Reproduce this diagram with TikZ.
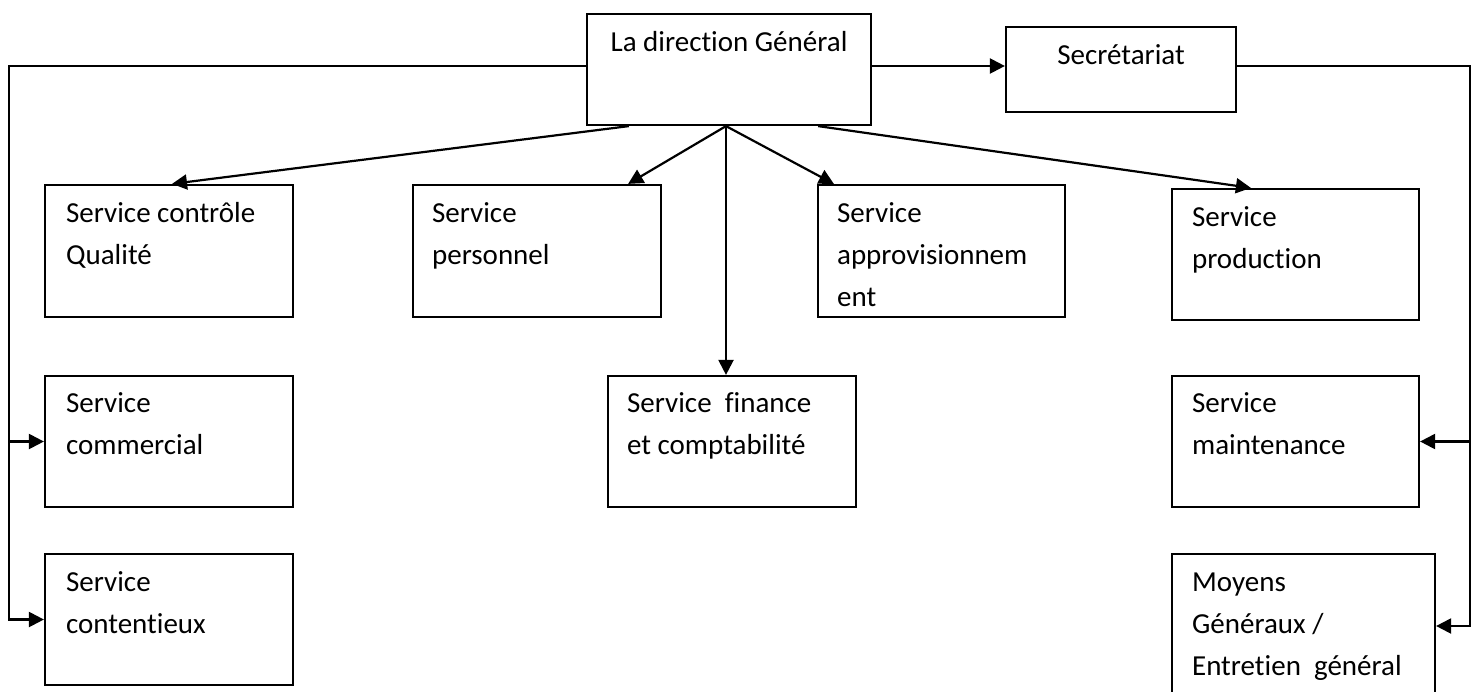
\documentclass[tikz,border=0pt]{standalone}
\usepackage{fontspec}
\setmainfont{Carlito}[Ligatures={NoCommon,NoContextual}]
\usetikzlibrary{arrows.meta,calc}
\begin{document}
\begin{tikzpicture}[x=1pt,y=-1pt,
  box/.style={draw,line width=2.2pt,inner sep=0pt,minimum height=#1},
  box/.default=132pt,
  txt/.style={inner sep=0pt,anchor=base west,font=\fontsize{29}{42}\selectfont},
  ctxt/.style={inner sep=0pt,anchor=base,font=\fontsize{29}{42}\selectfont},
  conn/.style={line width=2.2pt},
  arr/.style={conn,-{Triangle[length=15pt,width=15pt]}}]
\useasboundingbox (0,0) rectangle (1478,691);
% boxes
\node[box=111pt,minimum width=284pt] (dir) at (729,69.5) {};
\node[box=85pt,minimum width=230pt] (sec) at (1121,69.5) {};
\node[box,minimum width=248pt] (ctrl) at (169,251) {};
\node[box,minimum width=248pt] (pers) at (537,251) {};
\node[box,minimum width=247pt] (appro) at (941.5,251) {};
\node[box=131pt,minimum width=247pt] (prod) at (1295.5,254.5) {};
\node[box=131pt,minimum width=248pt] (comm) at (169,441.5) {};
\node[box=131pt,minimum width=248pt] (cont) at (169,619.5) {};
\node[box=131pt,minimum width=248pt] (fin) at (732,441.5) {};
\node[box=131pt,minimum width=247pt] (maint) at (1295.5,441.5) {};
\node[box=144pt,minimum width=263pt] (moy) at (1303.5,626) {};
% texts
\node[ctxt] (tdir) at ($(dir.north)+(0,39)$) {La direction Général};
\node[ctxt] (tsec) at ($(sec.north)+(0,39)$) {Secrétariat};
\node[txt] (tctrl) at ($(ctrl.north west)+(22,39)$) {\parbox[t]{240pt}{\raggedright Service contrôle\\Qualité}};
\node[txt] (tpers) at ($(pers.north west)+(20,39)$) {\parbox[t]{240pt}{\raggedright Service\\personnel}};
\node[txt] (tappro) at ($(appro.north west)+(20,39)$) {\parbox[t]{240pt}{\raggedright Service\\approvisionnem\\ent}};
\node[txt] (tprod) at ($(prod.north west)+(21,39)$) {\parbox[t]{240pt}{\raggedright Service\\production}};
\node[txt] (tcomm) at ($(comm.north west)+(22,38)$) {\parbox[t]{240pt}{\raggedright Service\\commercial}};
\node[txt] (tcont) at ($(cont.north west)+(22,39)$) {\parbox[t]{240pt}{\raggedright Service\\contentieux}};
\node[txt] (tfin) at ($(fin.north west)+(20,38)$) {\parbox[t]{240pt}{\raggedright Service\ \ finance\\et comptabilité}};
\node[txt] (tmaint) at ($(maint.north west)+(21,38)$) {\parbox[t]{240pt}{\raggedright Service\\maintenance}};
\node[txt] (tmoy) at ($(moy.north west)+(21,39)$) {\parbox[t]{260pt}{\raggedright Moyens\\Généraux /\\Entretien\ \ général}};
% connectors
\coordinate (lt) at (9,66);
\coordinate (rt) at (1470,66);
\coordinate (hub) at ([xshift=-3pt]dir.south);
\draw[arr] ([yshift=3.5pt]dir.west) -- (lt) |- (cont.west);
\draw[arr] (lt |- comm.west) -- (comm.west);
\draw[arr] ([yshift=3.5pt]dir.east) -- ([yshift=3.5pt]sec.west);
\draw[arr] ([yshift=3.5pt]sec.east) -- (rt) |- (moy.east);
\draw[arr] (rt |- maint.east) -- (maint.east);
\draw[arr] ([xshift=43pt]dir.south west) -- ([xshift=3pt]ctrl.north);
\draw[arr] (hub) -- ([xshift=-34pt]pers.north east);
\draw[arr] (hub) -- ([xshift=17pt]appro.north west);
\draw[arr] ([xshift=-54pt]dir.south east) -- ([xshift=80pt]prod.north west);
\draw[arr] (hub) -- (hub |- fin.north);
\end{tikzpicture}
\end{document}
